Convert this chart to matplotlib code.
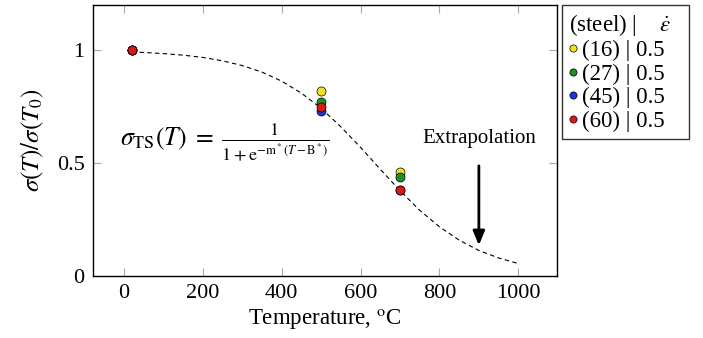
import matplotlib
matplotlib.use("Agg")
import matplotlib.pyplot as plt
import numpy as np

# fitted curve
curve_t = [20, 50, 100, 150, 200, 250, 300, 350, 400, 450, 500, 550,
           600, 650, 700, 750, 800, 850, 900, 950, 1000]
curve_s = [0.992, 0.990, 0.985, 0.978, 0.968, 0.953, 0.932, 0.903, 0.863,
           0.810, 0.743, 0.661, 0.570, 0.473, 0.378, 0.291, 0.218, 0.159,
           0.113, 0.080, 0.055]

# measured points
temps = [20, 500, 700]
steels = ["16", "27", "45", "60"]
rates = ["0.5", "0.5", "0.5", "0.5"]
s16 = [1.0, 0.82, 0.46]
s27 = [1.0, 0.77, 0.44]
s45 = [1.0, 0.73, 0.38]
s60 = [1.0, 0.75, 0.38]
colors = ["#f2e21b", "#1f8f1f", "#2230e0", "#e01515"]

x_ticks = [0, 200, 400, 600, 800, 1000]
y_ticks = [0, 0.5, 1]
y_tick_labels = ["0", "0.5", "1"]

plt.rcParams["font.family"] = ["Liberation Serif", "DejaVu Serif"]
plt.rcParams["mathtext.fontset"] = "stix"

fig = plt.figure(figsize=(7.03, 3.38), dpi=100)
ax = fig.add_axes([0.1323, 0.1834, 0.66, 0.8018])

ax.plot(curve_t, curve_s, color="k", lw=0.8, dashes=(4, 3))

handles = []
for vals, c in zip([s16, s27, s45, s60], colors):
    h, = ax.plot(temps, vals, "o", color=c, markeredgecolor="k",
                 markeredgewidth=0.5, markersize=6.5, linestyle="none")
    handles.append(h)

ax.set_xlim(-78, 1098)
ax.set_ylim(0, 1.2)
ax.set_xticks(x_ticks)
ax.set_yticks(y_ticks)
ax.set_yticklabels(y_tick_labels)
ax.tick_params(direction="in", length=6, width=0.8, color="#aaaaaa",
               top=True, right=True, labelsize=16, pad=6)
for sp in ax.spines.values():
    sp.set_linewidth(1.0)

ax.set_xlabel(r"Temperature, $^{\mathrm{o}}$C", fontsize=16.5, labelpad=3)
ax.set_ylabel(r"$\sigma(T)/\sigma(T_0)$", fontsize=18, labelpad=8)

ax.text(-10, 0.59, r"$\sigma_{\mathrm{TS}}(T)\;=\;\frac{1}{1+\mathrm{e}^{-\mathrm{m}^*(T-\mathrm{B}^*)}}$",
        fontsize=18.5, ha="left", va="center")

ax.text(900, 0.61, "Extrapolation", fontsize=15, ha="center", va="center")
ax.annotate("", xy=(900, 0.124), xytext=(900, 0.5),
            arrowprops=dict(arrowstyle="-|>,head_length=0.6,head_width=0.25",
                            lw=2, color="k", mutation_scale=14))

labels = ["(%s) | %s\u00a0\u00a0\u00a0" % (s, r) for s, r in zip(steels, rates)]
leg = fig.legend(handles, labels, loc="upper left",
                 bbox_to_anchor=(0.799, 0.985), bbox_transform=fig.transFigure,
                 title=r"(steel) |    $\dot{\varepsilon}$", fontsize=16.5,
                 title_fontsize=16.5, fancybox=False, edgecolor="k",
                 handlelength=0.4, handletextpad=0.2, borderpad=0.3,
                 labelspacing=0.1, markerscale=0.8, borderaxespad=0,
                 alignment="left")
leg.get_frame().set_linewidth(1.0)

fig.savefig("out.png", dpi=100)
